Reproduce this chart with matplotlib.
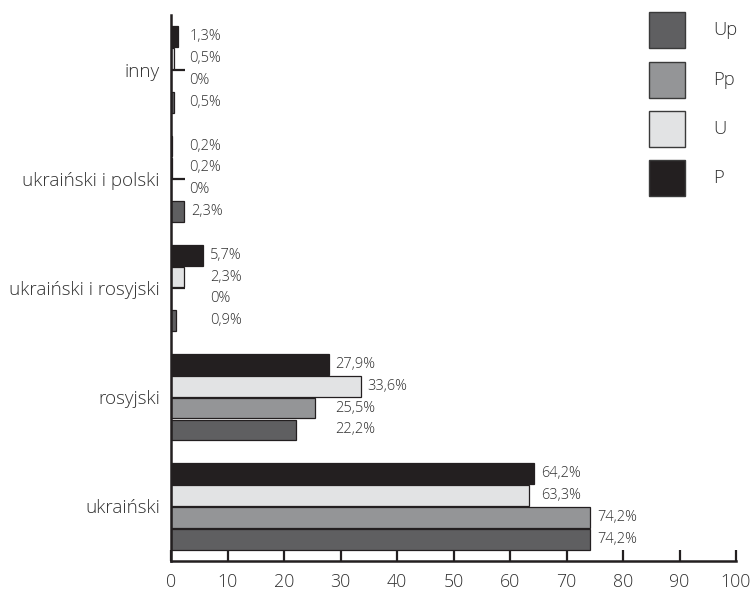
import matplotlib
matplotlib.use("Agg")
import matplotlib.pyplot as plt
from matplotlib.patches import Rectangle
import numpy as np

plt.rcParams['font.family'] = ['Open Sans', 'DejaVu Sans']
plt.rcParams['font.weight'] = 'light'

categories = ["ukraiński", "rosyjski", "ukraiński i rosyjski", "ukraiński i polski", "inny"]
series_names = ["Up", "Pp", "U", "P"]
Up = [74.2, 22.2, 0.9, 2.3, 0.5]
Pp = [74.2, 25.5, 0.0, 0.0, 0.0]
U = [63.3, 33.6, 2.3, 0.2, 0.5]
P = [64.2, 27.9, 5.7, 0.2, 1.3]
x_ticks = [0, 10, 20, 30, 40, 50, 60, 70, 80, 90, 100]

series = [Up, Pp, U, P]
colors = ["#5f5f61", "#949597", "#e2e3e4", "#231f20"]
edge = "#231f20"
text_col = "#303030"

W, H = 753, 591
fig = plt.figure(figsize=(W / 100, H / 100), dpi=100)
ax = fig.add_axes([171 / W, 30 / H, 565 / W, 546 / H])

y = np.arange(len(categories))
bar_h = 0.19
offsets = [-0.3, -0.1, 0.1, 0.3]

for vals, col, off in zip(series, colors, offsets):
    ax.barh(y + off, vals, height=bar_h, color=col, edgecolor=edge,
            linewidth=0.9, zorder=3)

# value labels: aligned within a group to the right of the P bar
for i in range(len(categories)):
    for vals, off in zip(series, offsets):
        v = vals[i]
        base = max(v, P[i], 2.0)
        txt = "0%" if v == 0 else f"{v:.1f}".replace(".", ",") + "%"
        ax.annotate(txt, xy=(base, y[i] + off), xytext=(5, 0),
                    textcoords="offset points", ha="left", va="center",
                    fontsize=10.5, color=text_col)

ax.set_xlim(0, 100)
ax.set_ylim(-0.5, len(categories) - 0.5)
ax.set_xticks(x_ticks)
ax.set_xticklabels([str(t) for t in x_ticks])
ax.set_yticks(y)
ax.set_yticklabels(categories)

for s in ["top", "right"]:
    ax.spines[s].set_visible(False)
for s in ["left", "bottom"]:
    ax.spines[s].set_linewidth(1.8)
    ax.spines[s].set_color(edge)
    ax.spines[s].set_zorder(4)

ax.tick_params(axis="x", direction="in", length=8, width=1.6, color=edge,
               labelsize=12.8, labelcolor=text_col, pad=8.5)
ax.tick_params(axis="y", direction="in", length=10, width=1.6, color=edge,
               labelsize=13.6, labelcolor=text_col, pad=8)

# legend: square swatches stacked in the top-right corner
sq = 36
tops = [12, 62, 111, 160]
for name, col, top in zip(series_names, colors, tops):
    fig.patches.append(Rectangle((649 / W, 1 - (top + sq) / H), sq / W, sq / H,
                                 transform=fig.transFigure, facecolor=col,
                                 edgecolor="#3a3a3a", linewidth=1.0))
    fig.text(713 / W, 1 - (top + sq / 2) / H, name, ha="left", va="center",
             fontsize=13.2, color=text_col)

fig.savefig("out.png", dpi=100)
